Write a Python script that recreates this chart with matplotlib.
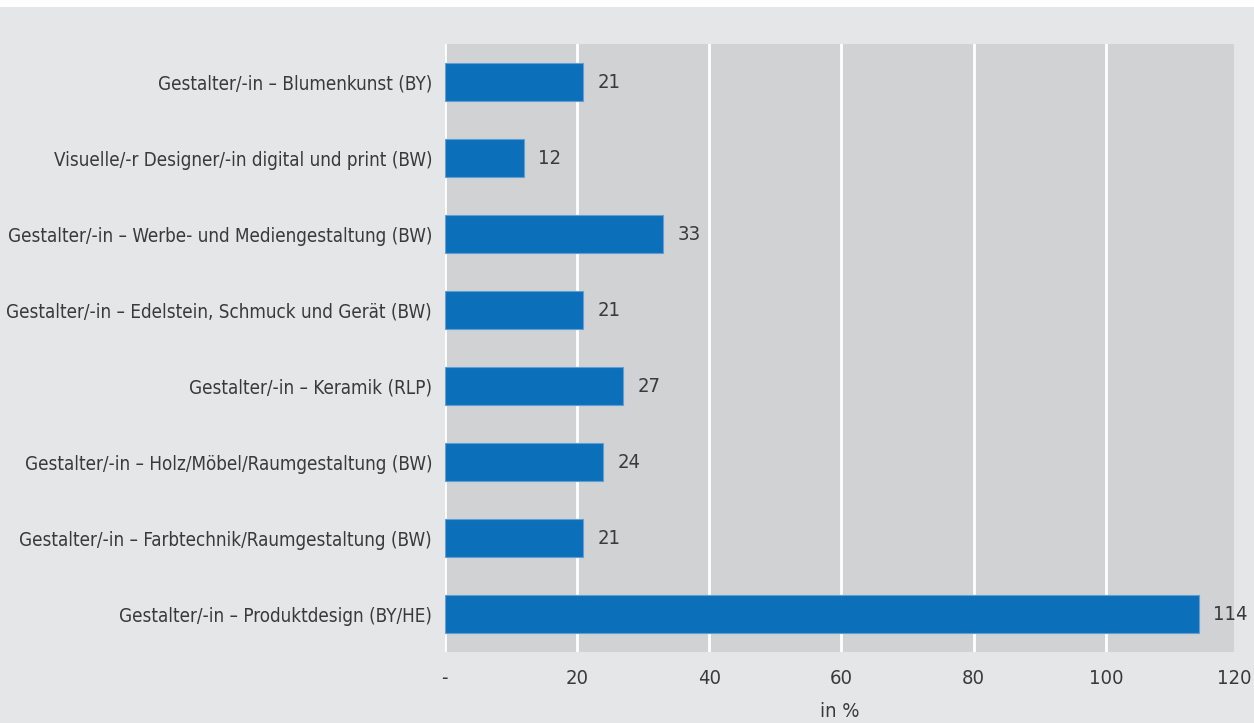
import matplotlib.pyplot as plt
from matplotlib.patches import Rectangle

categories = [
    "Gestalter/-in – Blumenkunst (BY)",
    "Visuelle/-r Designer/-in digital und print (BW)",
    "Gestalter/-in – Werbe- und Mediengestaltung (BW)",
    "Gestalter/-in – Edelstein, Schmuck und Gerät (BW)",
    "Gestalter/-in – Keramik (RLP)",
    "Gestalter/-in – Holz/Möbel/Raumgestaltung (BW)",
    "Gestalter/-in – Farbtechnik/Raumgestaltung (BW)",
    "Gestalter/-in – Produktdesign (BY/HE)",
]
values = [21, 12, 33, 21, 27, 24, 21, 114]
xticks = [0, 20, 40, 60, 80, 100]
xticklabels = ["-", "20", "40", "60", "80", "100"]
last_label = "120"

plt.rcParams['font.family'] = ['DejaVu Sans']
plt.rcParams['font.stretch'] = 'condensed'
text_color = '#3a3a3a'
fs = 13.5
fs_num = 14.5
xpad = 12

fig = plt.figure(figsize=(12.54, 7.23), dpi=100, facecolor='white')
fig.patches.append(Rectangle((0, 0), 1, 1 - 7 / 723, transform=fig.transFigure,
                             facecolor='#e5e6e8', edgecolor='none', zorder=-10))
ax = fig.add_axes([444.5 / 1254, 1 - 652 / 723, (1234 - 444.5) / 1254, (652 - 44) / 723])
ax.set_facecolor('#d1d2d4')

y = list(range(len(categories)))
ax.barh(y, values, height=0.5, color='#0b6fba', edgecolor='#5f9fd3', linewidth=0.8, zorder=3)
for yi, v in zip(y, values):
    ax.text(v + 2.2, yi, str(v), va='center', ha='left', fontsize=fs_num, color=text_color)

ax.set_ylim(len(categories) - 0.5, -0.5)
# the source plot area stops just short of the 120 mark
ax.set_xlim(0, 119.35)
ax.set_yticks(y)
ax.set_yticklabels(categories, fontsize=fs, color=text_color)
ax.set_xticks(xticks)
ax.set_xticklabels(xticklabels, fontsize=fs_num, color=text_color)
ax.annotate(last_label, xy=(1, 0), xycoords='axes fraction', xytext=(0, -xpad),
            textcoords='offset points', ha='center', va='top',
            fontsize=fs_num, color=text_color)
ax.tick_params(length=0)
ax.tick_params(axis='x', pad=xpad)
ax.tick_params(axis='y', pad=9)
ax.grid(axis='x', color='white', linewidth=2, zorder=1)
ax.set_axisbelow(True)
for s in ax.spines.values():
    s.set_visible(False)
ax.set_xlabel('in %', fontsize=fs_num, color=text_color, labelpad=10)

fig.savefig('out.png', dpi=100, facecolor=fig.get_facecolor())
